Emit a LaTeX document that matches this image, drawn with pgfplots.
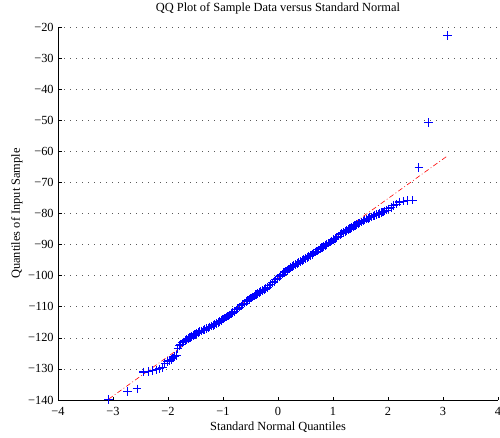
\documentclass[border=0pt]{standalone}
\usepackage{fontspec}
\setmainfont{Liberation Serif}
\usepackage{pgfplots}
\pgfplotsset{compat=1.18}
\definecolor{mblue}{RGB}{0,0,255}
\begin{document}
\fontsize{12.4}{15}\selectfont
\begin{tikzpicture}
\useasboundingbox (0pt,0pt) rectangle (500pt,437pt);
\begin{axis}[
  at={(58pt,37pt)}, anchor=south west,
  scale only axis, width=440pt, height=373pt,
  xmin=-4, xmax=4, ymin=-140, ymax=-20,
  axis lines*=left,
  axis line style={black, line width=0.6pt},
  clip=false,
  xtick={-4,-3,-2,-1,0,1,2,3,4},
  xticklabels={−4,−3,−2,−1,0,1,2,3,4},
  ytick={-140,-130,-120,-110,-100,-90,-80,-70,-60,-50,-40,-30,-20},
  yticklabels={−140,−130,−120,−110,−100,−90,−80,−70,−60,−50,−40,−30,−20},
  tick align=inside,
  major tick length=3.5pt,
  tick style={black, line width=0.6pt},
  xticklabel style={yshift=-3pt},
  ymajorgrids,
  major grid style={black!65, line width=0.6pt, dash pattern=on 0.6pt off 5.4pt},
  title={QQ Plot of Sample Data versus Standard Normal},
  title style={at={(axis description cs:0.5,1)}, anchor=base, yshift=9.5pt},
  xlabel={Standard Normal Quantiles},
  xlabel style={at={(axis description cs:0.5,0)}, anchor=base, yshift=-30pt},
  ylabel={Quantiles of Input Sample},
  ylabel style={at={(axis description cs:-0.0864,0.5)}, anchor=base},
]
\addplot[red, line width=0.6pt, dash pattern=on 5pt off 2.5pt on 0.8pt off 2.5pt]
  coordinates {(-3.078,-139.7) (3.078,-61.5)};
\addplot[only marks, mark=+, mark size=4.3pt, color=mblue,
  mark options={draw=mblue, line width=1.1pt, solid}]
  coordinates {
(-3.078,-139.9) (-2.734,-137.2) (-2.562,-136.4) (-2.442,-131.0) (-2.35,-130.9)
(-2.275,-130.6) (-2.21,-130.3) (-2.154,-130.0) (-2.103,-129.5) (-2.058,-128.3)
(-2.016,-127.6) (-1.978,-127.2) (-1.942,-126.9) (-1.909,-126.5) (-1.877,-126.1)
(-1.848,-125.6) (-1.82,-123.5) (-1.793,-122.5) (-1.768,-122.0) (-1.744,-121.6)
(-1.72,-121.3) (-1.69,-120.9) (-1.66,-120.55) (-1.63,-120.2) (-1.60,-119.8)
(-1.57,-119.5) (-1.54,-119.2) (-1.51,-118.9) (-1.48,-118.6) (-1.45,-118.3)
(-1.42,-118.0) (-1.39,-117.75) (-1.36,-117.5) (-1.33,-117.25) (-1.30,-117.0)
(-1.27,-116.8) (-1.24,-116.5) (-1.21,-116.25) (-1.18,-115.95) (-1.15,-115.65)
(-1.12,-115.4) (-1.09,-115.08) (-1.06,-114.7) (-1.03,-114.35) (-1.00,-114.0)
(-0.97,-113.65) (-0.94,-113.3) (-0.91,-112.95) (-0.88,-112.6) (-0.85,-112.2)
(-0.82,-111.85) (-0.79,-111.45) (-0.76,-111.0) (-0.73,-110.55) (-0.70,-110.1)
(-0.67,-109.7) (-0.64,-109.25) (-0.61,-108.85) (-0.58,-108.4) (-0.55,-108.0)
(-0.52,-107.6) (-0.49,-107.2) (-0.46,-106.85) (-0.43,-106.5) (-0.40,-106.15)
(-0.37,-105.8) (-0.34,-105.5) (-0.31,-105.15) (-0.28,-104.8) (-0.25,-104.45)
(-0.22,-104.1) (-0.19,-103.75) (-0.16,-103.3) (-0.13,-102.8) (-0.10,-102.3)
(-0.07,-101.8) (-0.04,-101.35) (-0.01,-100.9) (0.02,-100.4) (0.05,-99.95)
(0.08,-99.5) (0.11,-99.05) (0.14,-98.65) (0.17,-98.25) (0.20,-97.85)
(0.23,-97.45) (0.26,-97.1) (0.29,-96.75) (0.32,-96.4) (0.35,-96.05)
(0.38,-95.7) (0.41,-95.4) (0.44,-95.05) (0.47,-94.75) (0.50,-94.45)
(0.53,-94.1) (0.56,-93.8) (0.59,-93.45) (0.62,-93.1) (0.65,-92.75)
(0.68,-92.4) (0.71,-92.1) (0.74,-91.7) (0.77,-91.35) (0.80,-91.0)
(0.83,-90.65) (0.86,-90.3) (0.89,-89.9) (0.92,-89.55) (0.95,-89.2)
(0.98,-88.85) (1.01,-88.45) (1.04,-88.1) (1.07,-87.7) (1.10,-87.3)
(1.13,-86.85) (1.16,-86.5) (1.19,-86.15) (1.22,-85.85) (1.25,-85.55)
(1.28,-85.2) (1.31,-84.9) (1.34,-84.55) (1.37,-84.25) (1.40,-83.95)
(1.43,-83.6) (1.46,-83.3) (1.49,-83.0) (1.52,-82.7) (1.55,-82.4)
(1.58,-82.1) (1.61,-81.8) (1.64,-81.6) (1.67,-81.35) (1.70,-81.1)
(1.73,-80.85) (1.76,-80.6) (1.79,-80.4) (1.82,-80.2) (1.85,-79.95)
(1.88,-79.75) (1.91,-79.55) (1.94,-79.25) (1.978,-78.9) (2.016,-78.5)
(2.058,-78.0) (2.103,-77.5) (2.154,-77.0) (2.21,-76.3) (2.275,-76.0)
(2.35,-75.8) (2.442,-75.7) (2.562,-65.2) (2.734,-50.8) (3.078,-22.7)
  };
\end{axis}
\end{tikzpicture}
\end{document}
